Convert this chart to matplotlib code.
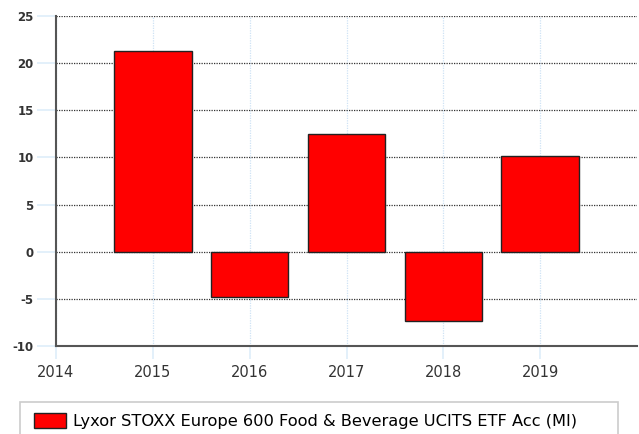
import matplotlib.pyplot as plt
from matplotlib.patches import Rectangle, Patch

plt.rcParams['axes.unicode_minus'] = False

years = [2015, 2016, 2017, 2018, 2019]
returns = [21.3, -4.8, 12.5, -7.4, 10.2]
x_ticks = [2014, 2015, 2016, 2017, 2018, 2019]
y_ticks = [-10, -5, 0, 5, 10, 15, 20, 25]
series_name = "Lyxor STOXX Europe 600 Food & Beverage UCITS ETF Acc (MI)"

fig = plt.figure(figsize=(6.39, 4.34), dpi=100)
ax = fig.add_axes([56 / 639, 88 / 434, 581 / 639, 330 / 434])

ax.bar(years, returns, width=0.8, color='#ff0000', edgecolor='#222222', linewidth=1, zorder=3)

ax.set_xlim(2014, 2020)
ax.set_ylim(-10, 25)
ax.set_xticks(x_ticks)
ax.set_yticks(y_ticks)

# grid: dotted black horizontal, faint blue vertical
ax.yaxis.grid(True, linestyle=(0, (1, 1)), color='#333333', linewidth=0.9, zorder=1)
ax.xaxis.grid(True, linestyle=(0, (1, 1)), color='#cfe3f5', linewidth=0.9, zorder=0)

for s in ['top', 'right']:
    ax.spines[s].set_visible(False)
for s in ['left', 'bottom']:
    ax.spines[s].set_color('#555555')
    ax.spines[s].set_linewidth(1.5)

ax.tick_params(axis='y', length=14, width=1.2, color='#deedf9', labelsize=8.5, labelcolor='#333333', pad=2)
ax.tick_params(axis='x', length=9, width=1.2, color='#deedf9', labelsize=10.5, labelcolor='#333333', pad=5)
for lbl in ax.get_yticklabels():
    lbl.set_fontweight('bold')

# legend box at the bottom
fig.patches.append(Rectangle((20 / 639, -0.05), 598 / 639, 0.05 + 32 / 434,
                             transform=fig.transFigure, facecolor='white',
                             edgecolor='#cccccc', linewidth=1.2))
fig.legend(handles=[Patch(facecolor='#ff0000', edgecolor='#222222', label=series_name)],
           loc='center left', bbox_to_anchor=(19 / 639, 13 / 434), frameon=False,
           fontsize=11.7, handlelength=2.0, handleheight=1.0, handletextpad=0.4)

fig.savefig('out.png', dpi=100)
